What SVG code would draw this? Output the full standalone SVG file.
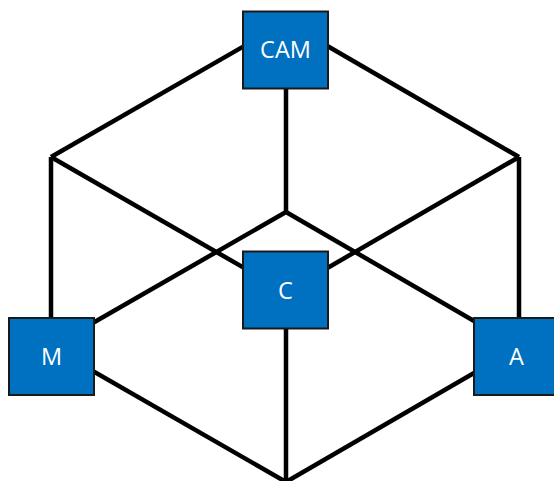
<svg xmlns="http://www.w3.org/2000/svg" width="554" height="481" viewBox="0 0 554 481">
  <style>
    .edge { stroke: #000; stroke-width: 4.5; fill: none; stroke-linecap: butt; }
    .box { fill: #0070C0; stroke: #1a1a1a; stroke-width: 2; }
    .lbl { fill: #fff; font-family: "Open Sans", "Noto Sans", "DejaVu Sans", sans-serif; font-size: 23.5px; text-anchor: middle; }
  </style>
  <rect width="554" height="481" fill="#fff"/>
  <g id="connectors">
    <line class="edge" x1="286" y1="22" x2="51" y2="157"/>
    <line class="edge" x1="286" y1="22" x2="519" y2="157"/>
    <line class="edge" x1="286" y1="22" x2="286" y2="212"/>
    <line class="edge" x1="51" y1="157" x2="286" y2="292"/>
    <line class="edge" x1="519" y1="157" x2="286" y2="292"/>
    <line class="edge" x1="51" y1="157" x2="51" y2="347"/>
    <line class="edge" x1="519" y1="157" x2="519" y2="347"/>
    <line class="edge" x1="286" y1="212" x2="51" y2="347"/>
    <line class="edge" x1="286" y1="212" x2="519" y2="347"/>
    <line class="edge" x1="286" y1="292" x2="286" y2="482"/>
    <line class="edge" x1="51" y1="347" x2="286" y2="482"/>
    <line class="edge" x1="519" y1="347" x2="286" y2="482"/>
  </g>
  <g id="node-CAM">
    <rect class="box" x="243" y="11.5" width="85" height="77"/>
    <text class="lbl" x="285.5" y="57.5">CAM</text>
  </g>
  <g id="node-C">
    <rect class="box" x="243" y="251.5" width="85" height="77"/>
    <text class="lbl" x="285.5" y="298.5">C</text>
  </g>
  <g id="node-M">
    <rect class="box" x="9" y="318" width="85" height="77"/>
    <text class="lbl" x="51.5" y="365">M</text>
  </g>
  <g id="node-A">
    <rect class="box" x="474" y="318" width="85" height="77"/>
    <text class="lbl" x="516.5" y="365">A</text>
  </g>
</svg>
